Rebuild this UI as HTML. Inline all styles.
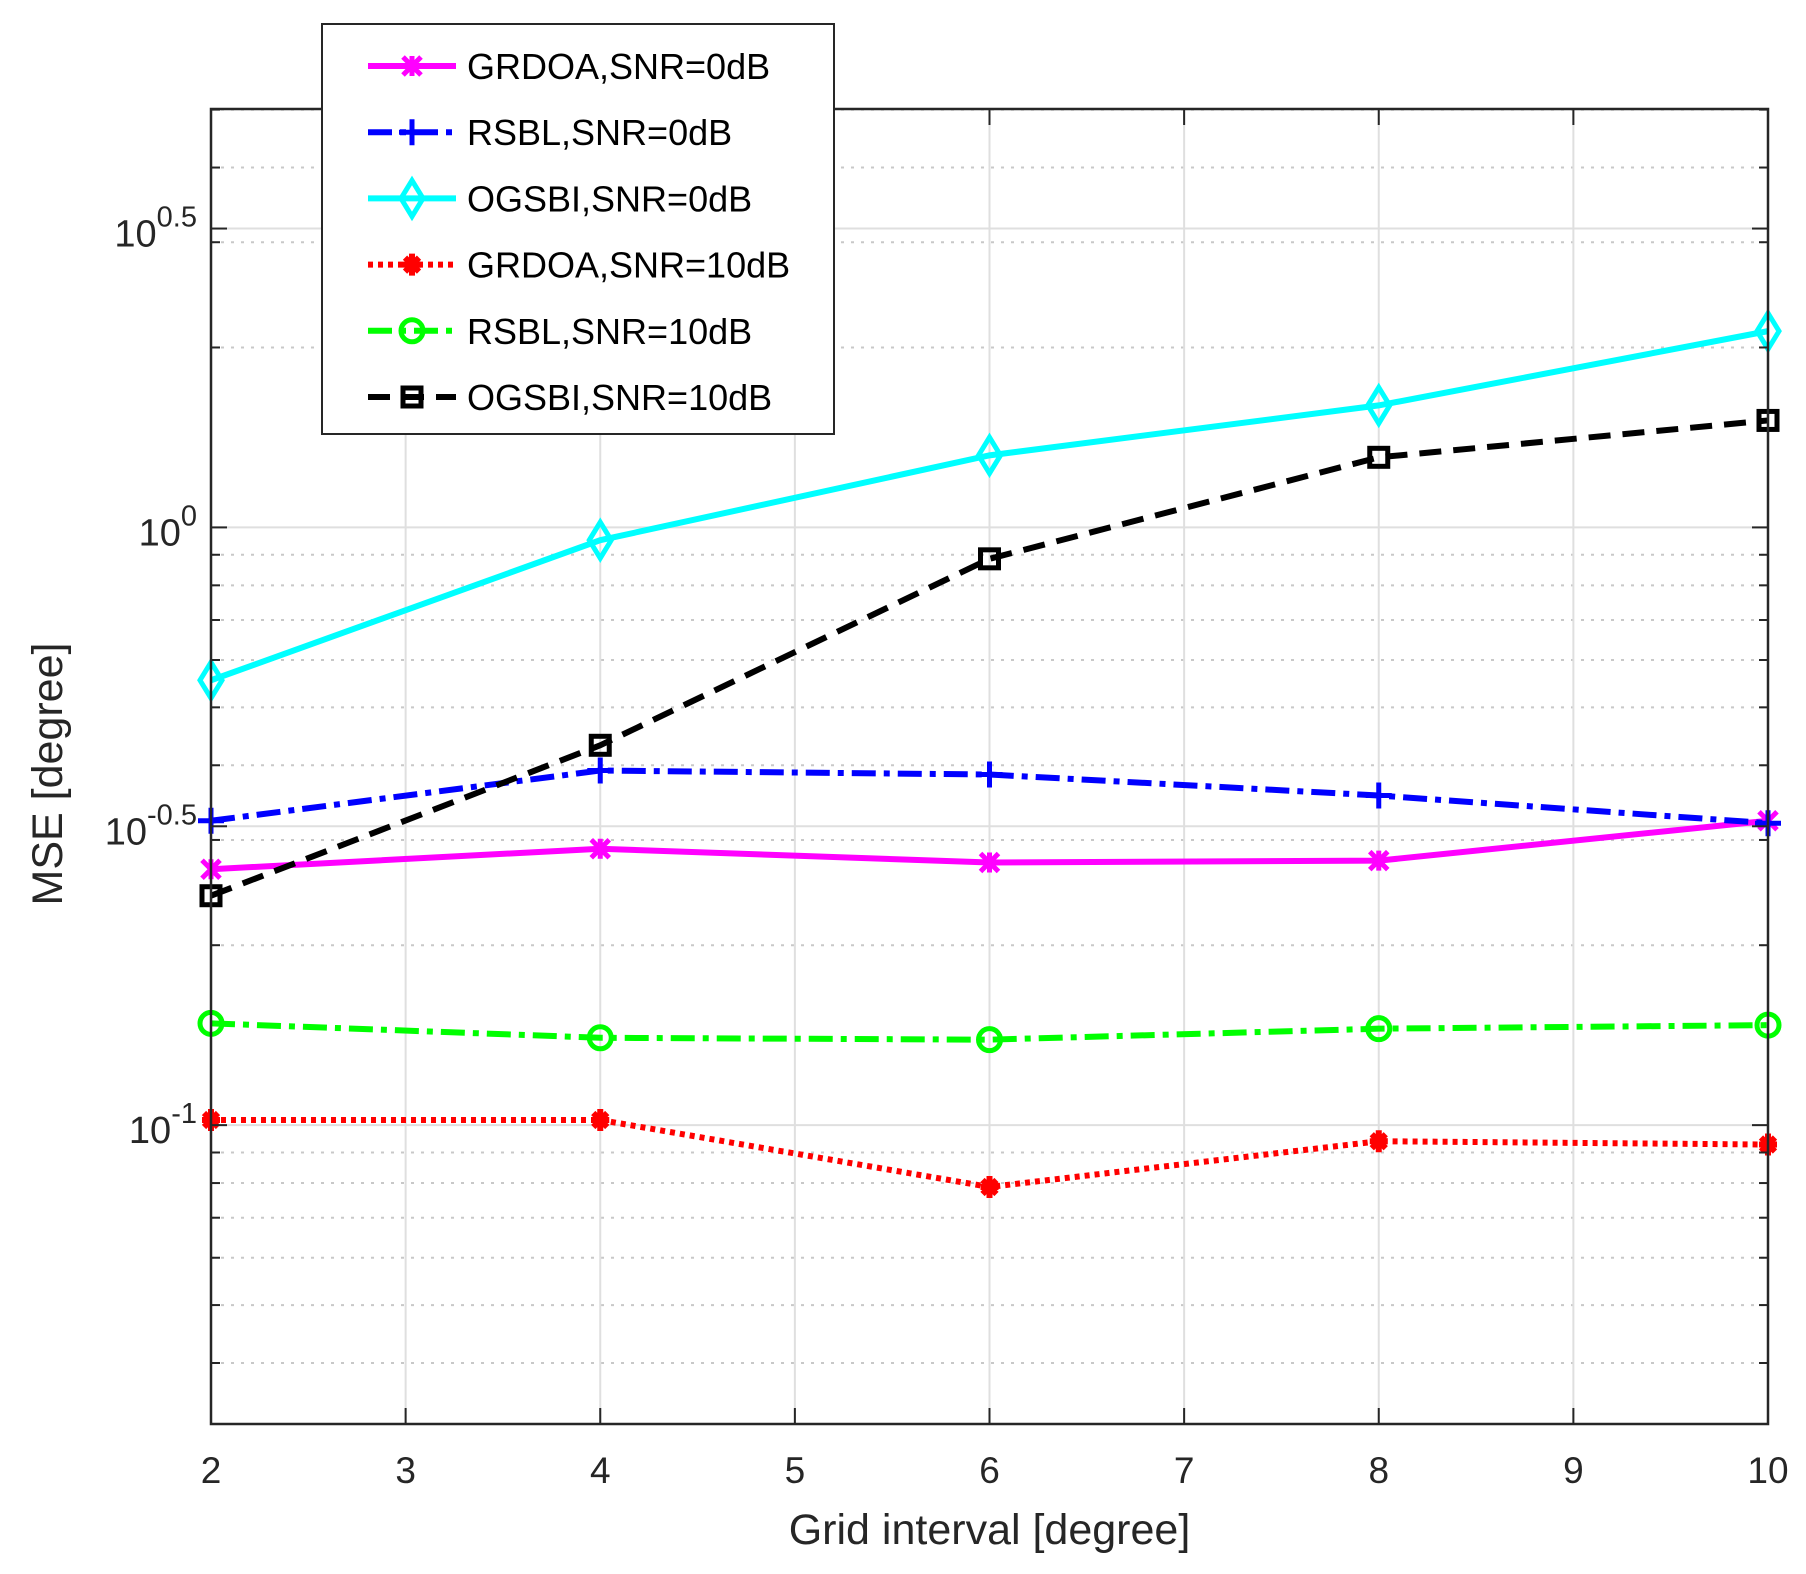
<!DOCTYPE html>
<html><head><meta charset="utf-8"><style>
html,body{margin:0;padding:0;background:#fff}
svg{display:block;font-family:"Liberation Sans",sans-serif}
</style></head><body>
<svg id="chart" width="1806" height="1574" viewBox="0 0 1806 1574" xmlns="http://www.w3.org/2000/svg">
<rect width="1806" height="1574" fill="#fff"/>
<g id="grid"></g><g id="series"></g><g id="axes"></g><g id="legend"></g>
</svg>
<script>
const xTicks=[2,3,4,5,6,7,8,9,10];
const yMajorExp=[-1,-0.5,0,0.5];
const yMajorLabels=["-1","-0.5","0","0.5"];
const xVals=[2,4,6,8,10];
const grdoa0=[0.268,0.290,0.275,0.277,0.323];
const rsbl0=[0.323,0.392,0.386,0.356,0.320];
const ogsbi0=[0.555,0.952,1.32,1.60,2.13];
const grdoa10=[0.102,0.102,0.0788,0.0940,0.0928];
const rsbl10=[0.148,0.140,0.139,0.145,0.147];
const ogsbi10=[0.242,0.432,0.886,1.31,1.51];
const seriesNames=["GRDOA,SNR=0dB","RSBL,SNR=0dB","OGSBI,SNR=0dB","GRDOA,SNR=10dB","RSBL,SNR=10dB","OGSBI,SNR=10dB"];

const L=211,R=1768,T=109,B=1424,X0=2,X1=10,Y0=-1.5,Y1=0.7;
const NS="http://www.w3.org/2000/svg";
function sx(v){return L+(v-X0)/(X1-X0)*(R-L);}
function sy(v){return B-(Math.log10(v)-Y0)/(Y1-Y0)*(B-T);}
function mk(tag,attrs,parent){const e=document.createElementNS(NS,tag);for(const k in attrs)e.setAttribute(k,attrs[k]);parent.appendChild(e);return e;}
const grid=document.getElementById('grid'),axes=document.getElementById('axes'),ser=document.getElementById('series'),leg=document.getElementById('legend');

for(let d=-2;d<=0;d++){for(let m=2;m<=9;m++){const v=m*Math.pow(10,d);const lv=Math.log10(v);if(lv<=Y0||lv>=Y1)continue;const y=sy(v);
const g=mk('line',{x1:L,x2:R,y1:y,y2:y,stroke:'#c8c8c8','stroke-width':2,'stroke-dasharray':'3 7'},grid);

const t1=mk('line',{x1:L,x2:L+9,y1:y,y2:y,stroke:'#262626','stroke-width':2},axes);
const t2=mk('line',{x1:R-9,x2:R,y1:y,y2:y,stroke:'#262626','stroke-width':2},axes);}}
yMajorExp.forEach((e,i)=>{const y=sy(Math.pow(10,e));
const g=mk('line',{x1:L,x2:R,y1:y,y2:y,stroke:'#dfdfdf','stroke-width':2},grid);
mk('line',{x1:L,x2:L+16,y1:y,y2:y,stroke:'#262626','stroke-width':2},axes);
mk('line',{x1:R-16,x2:R,y1:y,y2:y,stroke:'#262626','stroke-width':2},axes);
const t=mk('text',{x:L-14,y:y+18,'text-anchor':'end','font-size':38,fill:'#262626'},axes);

t.appendChild(document.createTextNode('10'));const s=mk('tspan',{dy:-20,'font-size':29},t);s.textContent=yMajorLabels[i];});
xTicks.forEach(v=>{const x=sx(v);
const g=mk('line',{x1:x,x2:x,y1:T,y2:B,stroke:'#dfdfdf','stroke-width':2},grid);
mk('line',{x1:x,x2:x,y1:B-16,y2:B,stroke:'#262626','stroke-width':2},axes);
mk('line',{x1:x,x2:x,y1:T,y2:T+16,stroke:'#262626','stroke-width':2},axes);
const t=mk('text',{x:x,y:1483,'text-anchor':'middle','font-size':37,fill:'#262626'},axes);t.textContent=v;
});
const box=mk('rect',{x:L,y:T,width:R-L,height:B-T,fill:'none',stroke:'#262626','stroke-width':2.5},axes);

let xt=mk('text',{x:(L+R)/2,y:1544,'text-anchor':'middle','font-size':43,fill:'#262626'},axes);xt.textContent='Grid interval [degree]';

let yt=mk('text',{x:0,y:0,'text-anchor':'middle','font-size':43,fill:'#262626',transform:'translate(62,774) rotate(-90)'},axes);yt.textContent='MSE [degree]';


const styles=[
 {data:grdoa0,color:'#ff00ff',dash:'',marker:'x'},
 {data:rsbl0,color:'#0000ff',dash:'24 8 6 8',marker:'+'},
 {data:ogsbi0,color:'#00ffff',dash:'',marker:'d'},
 {data:grdoa10,color:'#ff0000',dash:'5 5',marker:'*'},
 {data:rsbl10,color:'#00ff00',dash:'24 8 6 8',marker:'o'},
 {data:ogsbi10,color:'#000000',dash:'22 12',marker:'s'}];
function marker(type,x,y,c,p){
 const w=5;let e;
 if(type==='x'){e=mk('path',{d:`M${x-9} ${y-9}L${x+9} ${y+9}M${x-9} ${y+9}L${x+9} ${y-9}M${x} ${y-10}L${x} ${y+10}`,stroke:c,'stroke-width':w,fill:'none'},p);}
 else if(type==='+'){e=mk('path',{d:`M${x-13} ${y}L${x+13} ${y}M${x} ${y-13}L${x} ${y+13}`,stroke:c,'stroke-width':w,fill:'none'},p);}
 else if(type==='d'){e=mk('path',{d:`M${x} ${y-18}L${x+11} ${y}L${x} ${y+18}L${x-11} ${y}Z`,stroke:c,'stroke-width':w,fill:'none'},p);}
 else if(type==='*'){e=mk('path',{d:`M${x-9} ${y}L${x+9} ${y}M${x} ${y-11}L${x} ${y+11}M${x-7} ${y-7}L${x+7} ${y+7}M${x-7} ${y+7}L${x+7} ${y-7}`,stroke:c,'stroke-width':6,fill:'none'},p);}
 else if(type==='o'){e=mk('circle',{cx:x,cy:y,r:11,stroke:c,'stroke-width':w,fill:'none'},p);}
 else {e=mk('rect',{x:x-9,y:y-9,width:18,height:18,stroke:c,'stroke-width':w,fill:'none'},p);}
 return e;}
styles.forEach((s,i)=>{
 const g=mk('g',{},ser);
 const pts=s.data.map((v,j)=>sx(xVals[j])+','+sy(v)).join(' ');
 const pl=mk('polyline',{points:pts,fill:'none',stroke:s.color,'stroke-width':6,'stroke-dasharray':s.dash},g);
 
 s.data.forEach((v,j)=>{const m=marker(s.marker,sx(xVals[j]),sy(v),s.color,g);
  });
 const ly=66+i*66.2;
 const lg=mk('g',{},leg);
 mk('line',{x1:368,x2:456,y1:ly,y2:ly,stroke:s.color,'stroke-width':6,'stroke-dasharray':s.dash},lg);
 marker(s.marker,412,ly,s.color,lg);
 const t=mk('text',{x:467,y:ly+13,'font-size':36,fill:'#000'},lg);t.textContent=seriesNames[i];
});
const lb=mk('rect',{x:322,y:24,width:512,height:410,fill:'none',stroke:'#262626','stroke-width':2},leg);
leg.insertBefore(mk('rect',{x:322,y:24,width:512,height:410,fill:'#fff'},leg),leg.firstChild);

</script>
</body></html>
